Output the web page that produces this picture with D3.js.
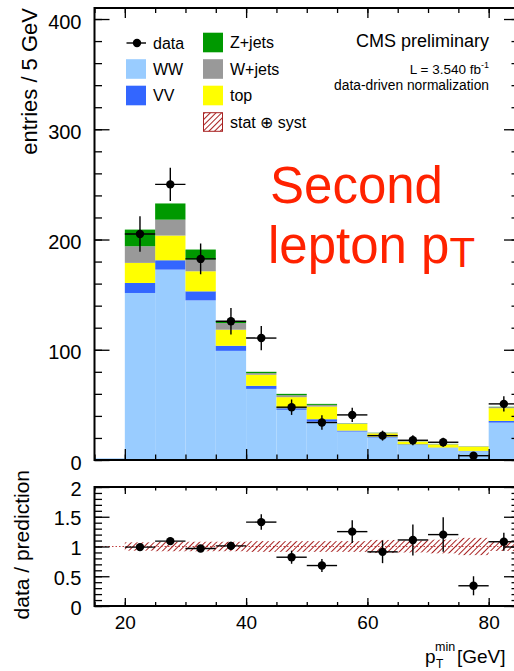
<!DOCTYPE html>
<html>
<head>
<meta charset="utf-8">
<script src="https://cdn.jsdelivr.net/npm/d3@7"></script>
<style>
  body { margin: 0; background: #fff; }
  svg text { font-family: "Liberation Sans", Arial, Helvetica, sans-serif; }
</style>
</head>
<body>
<svg id="chart" width="514" height="671"></svg>
<script>
// bins of 5 GeV, lower edges
const binLow = [15, 20, 25, 30, 35, 40, 45, 50, 55, 60, 65, 70, 75, 80];
const binWidth = 5;

// stacked backgrounds, bottom to top
const ww     = [1.5, 151.5, 172.7, 144.8, 99.0, 64.5, 45.5, 34.8, 25.8, 20.4, 13.6, 11.0, 8.0, 33.9];
const vv     = [0, 9.1, 8.5, 8.2, 4.6, 2.8, 1.5, 2.2, 0.9, 0.8, 0.6, 0.3, 0.3, 1.6];
const topBkg = [0, 18.2, 22.4, 18.2, 14.6, 10.0, 10.0, 11.5, 6.0, 3.0, 2.4, 2.8, 3.8, 11.5];
const wjets  = [0, 15.1, 14.4, 10.6, 6.0, 1.5, 1.8, 1.5, 0.4, 0.4, 0.3, 0.3, 0.3, 1.0];
const zjets  = [0, 15.1, 14.7, 9.1, 1.8, 1.2, 1.2, 0.9, 0.2, 0.2, 0.1, 0.2, 0.1, 0.3];

// observed
const dataVal = [null, 205, 250, 182.4, 125.8, 110.6, 47.9, 34, 40.9, 22.1, 17.9, 16.1, 3.9, 50.9];
const dataErr = [null, 16, 15, 14, 12, 11, 7, 6.5, 6.5, 4.5, 4.5, 4, 2, 7];

// ratio panel
const ratioVal = [null, 0.99, 1.09, 0.966, 1.01, 1.41, 0.82, 0.68, 1.25, 0.91, 1.11, 1.2, 0.34, 1.08];
const ratioErr = [null, 0.05, 0.05, 0.06, 0.07, 0.13, 0.11, 0.11, 0.19, 0.19, 0.26, 0.29, 0.16, 0.15];
const bandErr  = [null, 0.07, 0.08, 0.08, 0.08, 0.09, 0.09, 0.09, 0.09, 0.11, 0.10, 0.115, 0.145, 0.075];

const mainTicks  = [0, 100, 200, 300, 400];
const ratioTicks = [0, 0.5, 1, 1.5, 2];
const xTicks     = [20, 40, 60, 80];

const layers = [
  { key: "ww",    label: "WW",      color: "#99ccff", values: ww },
  { key: "vv",    label: "VV",      color: "#3366ff", values: vv },
  { key: "top",   label: "top",     color: "#ffff00", values: topBkg },
  { key: "wjets", label: "W+jets",  color: "#999999", values: wjets },
  { key: "zjets", label: "Z+jets",  color: "#009900", values: zjets }
];

const svg = d3.select("#chart");
const FONT = '"Liberation Sans", Arial, Helvetica, sans-serif';

const left = 94.5, right = 519;
const mainTop = 8, mainBottom = 460;
const ratTop = 487, ratBottom = 606;

const x = d3.scaleLinear().domain([15, 85]).range([left, right]);
const y = d3.scaleLinear().domain([0, 410]).range([mainBottom, mainTop]);
const yr = d3.scaleLinear().domain([0, 2]).range([ratBottom, ratTop]);

// hatch pattern for stat+syst
const defs = svg.append("defs");
defs.append("pattern")
    .attr("id", "hatch")
    .attr("patternUnits", "userSpaceOnUse")
    .attr("width", 4).attr("height", 4)
    .attr("patternTransform", "rotate(45)")
  .append("line")
    .attr("x1", 0).attr("y1", 0).attr("x2", 0).attr("y2", 4)
    .attr("stroke", "#a82222").attr("stroke-width", 2);

defs.append("clipPath").attr("id", "clipMain")
  .append("rect").attr("x", left).attr("y", mainTop)
  .attr("width", right - left).attr("height", mainBottom - mainTop);
defs.append("clipPath").attr("id", "clipRatio")
  .append("rect").attr("x", left).attr("y", ratTop)
  .attr("width", right - left).attr("height", ratBottom - ratTop);

// ---- main panel: stacked histogram
const rows = binLow.map((b, i) => {
  const r = { low: b };
  layers.forEach(l => { r[l.key] = l.values[i]; });
  return r;
});
const stacked = d3.stack().keys(layers.map(l => l.key))(rows);

const main = svg.append("g").attr("clip-path", "url(#clipMain)");

main.selectAll("g.layer")
  .data(stacked)
  .join("g")
    .attr("class", "layer")
    .attr("fill", (d, i) => layers[i].color)
  .selectAll("rect")
  .data(d => d)
  .join("rect")
    .attr("x", d => x(d.data.low))
    .attr("width", d => x(d.data.low + binWidth) - x(d.data.low))
    .attr("y", d => y(d[1]))
    .attr("height", d => Math.max(0, y(d[0]) - y(d[1])));

// data points
const pts = binLow.map((b, i) => ({ low: b, v: dataVal[i], e: dataErr[i] }))
                  .filter(d => d.v != null);
const dataG = main.append("g").attr("stroke", "#000").attr("stroke-width", 1.4);
dataG.selectAll("line.h").data(pts).join("line")
    .attr("x1", d => x(d.low)).attr("x2", d => x(d.low + binWidth))
    .attr("y1", d => y(d.v)).attr("y2", d => y(d.v));
dataG.selectAll("line.v").data(pts).join("line")
    .attr("x1", d => x(d.low + 2.5)).attr("x2", d => x(d.low + 2.5))
    .attr("y1", d => y(d.v - d.e)).attr("y2", d => y(d.v + d.e));
dataG.selectAll("circle").data(pts).join("circle")
    .attr("cx", d => x(d.low + 2.5)).attr("cy", d => y(d.v))
    .attr("r", 4.2).attr("fill", "#000").attr("stroke", "none");

// ---- ratio panel
const ratio = svg.append("g").attr("clip-path", "url(#clipRatio)");
ratio.append("line")
    .attr("x1", left).attr("x2", right)
    .attr("y1", yr(1)).attr("y2", yr(1))
    .attr("stroke", "#c04040").attr("stroke-width", 1)
    .attr("stroke-dasharray", "1.5,2");

const band = binLow.map((b, i) => ({ low: b, e: bandErr[i] })).filter(d => d.e != null);
ratio.selectAll("rect.band").data(band).join("rect")
    .attr("x", d => x(d.low))
    .attr("width", d => x(d.low + binWidth) - x(d.low))
    .attr("y", d => yr(1 + d.e))
    .attr("height", d => yr(1 - d.e) - yr(1 + d.e))
    .attr("fill", "url(#hatch)");

const rpts = binLow.map((b, i) => ({ low: b, v: ratioVal[i], e: ratioErr[i] }))
                   .filter(d => d.v != null);
const rG = ratio.append("g").attr("stroke", "#000").attr("stroke-width", 1.4);
rG.selectAll("line.h").data(rpts).join("line")
    .attr("x1", d => x(d.low)).attr("x2", d => x(d.low + binWidth))
    .attr("y1", d => yr(d.v)).attr("y2", d => yr(d.v));
rG.selectAll("line.v").data(rpts).join("line")
    .attr("x1", d => x(d.low + 2.5)).attr("x2", d => x(d.low + 2.5))
    .attr("y1", d => yr(d.v - d.e)).attr("y2", d => yr(d.v + d.e));
rG.selectAll("circle").data(rpts).join("circle")
    .attr("cx", d => x(d.low + 2.5)).attr("cy", d => yr(d.v))
    .attr("r", 4.2).attr("fill", "#000").attr("stroke", "none");

// ---- axes and frames
function tidy(g, size) {
  g.select(".domain").remove();
  g.attr("font-family", FONT).attr("font-size", size);
  g.selectAll("line").attr("stroke", "#000").attr("stroke-width", 1.3);
  g.selectAll("text").attr("fill", "#000");
}
const minorX = d3.range(15, 86, 5);

// main
svg.append("g").attr("transform", `translate(${left},0)`)
  .call(d3.axisLeft(y).tickValues(mainTicks).tickSize(-15).tickPadding(13).tickFormat(d3.format("d")))
  .call(g => tidy(g, 20))
  .call(g => g.selectAll("text").attr("dy", "0.45em"));
svg.append("g").attr("transform", `translate(${left},0)`)
  .call(d3.axisLeft(y).tickValues(d3.range(0, 411, 20)).tickSize(-7.5).tickFormat(""))
  .call(g => tidy(g, 10));
svg.append("g").attr("transform", `translate(${right},0)`)
  .call(d3.axisRight(y).tickValues(mainTicks).tickSize(-15).tickFormat(""))
  .call(g => tidy(g, 10));
svg.append("g").attr("transform", `translate(${right},0)`)
  .call(d3.axisRight(y).tickValues(d3.range(0, 411, 20)).tickSize(-7.5).tickFormat(""))
  .call(g => tidy(g, 10));
svg.append("g").attr("transform", `translate(0,${mainBottom})`)
  .call(d3.axisBottom(x).tickValues(xTicks).tickSize(-11).tickFormat(""))
  .call(g => tidy(g, 10));
svg.append("g").attr("transform", `translate(0,${mainBottom})`)
  .call(d3.axisBottom(x).tickValues(minorX).tickSize(-5.5).tickFormat(""))
  .call(g => tidy(g, 10));
svg.append("g").attr("transform", `translate(0,${mainTop})`)
  .call(d3.axisTop(x).tickValues(xTicks).tickSize(-10).tickFormat(""))
  .call(g => tidy(g, 10));
svg.append("g").attr("transform", `translate(0,${mainTop})`)
  .call(d3.axisTop(x).tickValues(minorX).tickSize(-5).tickFormat(""))
  .call(g => tidy(g, 10));

// ratio
svg.append("g").attr("transform", `translate(${left},0)`)
  .call(d3.axisLeft(yr).tickValues(ratioTicks).tickSize(-15).tickPadding(13).tickFormat(d => d3.format("~g")(d)))
  .call(g => tidy(g, 20))
  .call(g => g.selectAll("text").attr("dy", "0.4em"));
svg.append("g").attr("transform", `translate(${left},0)`)
  .call(d3.axisLeft(yr).tickValues(d3.range(0, 2.01, 0.1)).tickSize(-7.5).tickFormat(""))
  .call(g => tidy(g, 10));
svg.append("g").attr("transform", `translate(${right},0)`)
  .call(d3.axisRight(yr).tickValues(ratioTicks).tickSize(-15).tickFormat(""))
  .call(g => tidy(g, 10));
svg.append("g").attr("transform", `translate(${right},0)`)
  .call(d3.axisRight(yr).tickValues(d3.range(0, 2.01, 0.1)).tickSize(-7.5).tickFormat(""))
  .call(g => tidy(g, 10));
svg.append("g").attr("transform", `translate(0,${ratBottom})`)
  .call(d3.axisBottom(x).tickValues(xTicks).tickSize(-8).tickPadding(9.5).tickFormat(d3.format("d")))
  .call(g => tidy(g, 19));
svg.append("g").attr("transform", `translate(0,${ratBottom})`)
  .call(d3.axisBottom(x).tickValues(minorX).tickSize(-4).tickFormat(""))
  .call(g => tidy(g, 10));
svg.append("g").attr("transform", `translate(0,${ratTop})`)
  .call(d3.axisTop(x).tickValues(xTicks).tickSize(-7).tickFormat(""))
  .call(g => tidy(g, 10));
svg.append("g").attr("transform", `translate(0,${ratTop})`)
  .call(d3.axisTop(x).tickValues(minorX).tickSize(-3.5).tickFormat(""))
  .call(g => tidy(g, 10));

[[mainTop, mainBottom], [ratTop, ratBottom]].forEach(([t, b]) => {
  svg.append("rect")
    .attr("x", left).attr("y", t)
    .attr("width", right - left).attr("height", b - t)
    .attr("fill", "none").attr("stroke", "#000").attr("stroke-width", 2);
});

// ---- axis titles
svg.append("text")
    .attr("transform", "translate(37,8) rotate(-90)")
    .attr("text-anchor", "end").attr("font-size", 22)
    .text("entries / 5 GeV");
svg.append("text")
    .attr("transform", "translate(29,470) rotate(-90)")
    .attr("text-anchor", "end").attr("font-size", 21)
    .text("data / prediction");

const xt = svg.append("g").attr("font-size", 19);
xt.append("text").attr("x", 425).attr("y", 663).text("p");
xt.append("text").attr("x", 435).attr("y", 651).attr("font-size", 12.5).text("min");
xt.append("text").attr("x", 436).attr("y", 668).attr("font-size", 12).text("T");
xt.append("text").attr("x", 457).attr("y", 663).text("[GeV]");

// ---- legend
const leg = svg.append("g").attr("font-size", 16);
leg.append("line").attr("x1", 126.5).attr("x2", 146)
    .attr("y1", 43).attr("y2", 43).attr("stroke", "#000").attr("stroke-width", 1.4);
leg.append("circle").attr("cx", 137).attr("cy", 43).attr("r", 4.2).attr("fill", "#000");
leg.append("text").attr("x", 153).attr("y", 48.5).text("data");

const legendItems = [
  { layer: "ww", col: 0, row: 1 },
  { layer: "vv", col: 0, row: 2 },
  { layer: "zjets", col: 1, row: 0 },
  { layer: "wjets", col: 1, row: 1 },
  { layer: "top", col: 1, row: 2 }
];
const colX = [126, 203];
const rowY = [42.5, 69, 95.5, 122];
legendItems.forEach(it => {
  const l = layers.find(d => d.key === it.layer);
  leg.append("rect")
    .attr("x", colX[it.col]).attr("y", rowY[it.row] - 9.8)
    .attr("width", 20).attr("height", 19.6)
    .attr("fill", l.color);
  leg.append("text")
    .attr("x", colX[it.col] + 27).attr("y", rowY[it.row] + 5.8)
    .text(l.label);
});
leg.append("rect")
    .attr("x", colX[1] + 0.5).attr("y", rowY[3] - 9.3)
    .attr("width", 19).attr("height", 18.6)
    .attr("fill", "url(#hatch)").attr("stroke", "#a82222").attr("stroke-width", 1);
leg.append("text").attr("x", colX[1] + 27).attr("y", rowY[3] + 5.8).text("stat \u2295 syst");

// ---- labels
svg.append("text").attr("x", 489).attr("y", 47.3)
    .attr("text-anchor", "end").attr("font-size", 18).text("CMS preliminary");
const lumi = svg.append("text").attr("x", 489).attr("y", 74)
    .attr("text-anchor", "end").attr("font-size", 13.5);
lumi.append("tspan").text("L = 3.540 fb");
lumi.append("tspan").attr("font-size", 9).attr("dy", -6).text("-1");
svg.append("text").attr("x", 489).attr("y", 89.5)
    .attr("text-anchor", "end").attr("font-size", 13.8).text("data-driven normalization");

const big = svg.append("g").attr("fill", "#ff2200").attr("font-size", 51);
big.append("text").attr("x", 270).attr("y", 203).text("Second");
const l2 = big.append("text").attr("x", 268).attr("y", 263);
l2.append("tspan").text("lepton p");
l2.append("tspan").attr("font-size", 42).attr("dy", 4).text("T");
</script>
</body>
</html>
